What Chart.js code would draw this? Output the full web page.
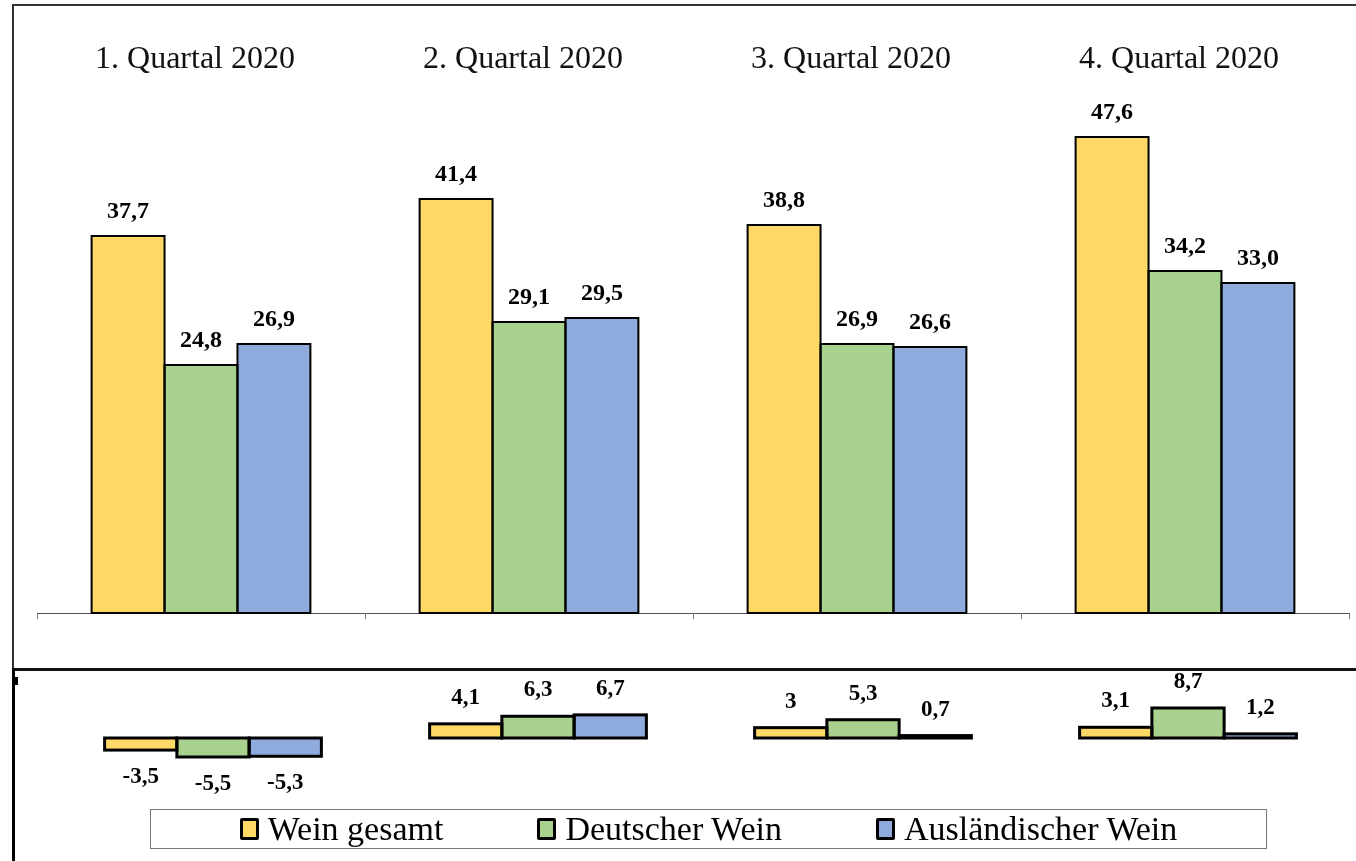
<!DOCTYPE html>
<html>
<head>
<meta charset="utf-8">
<script src="https://cdn.jsdelivr.net/npm/chart.js@4/dist/chart.umd.min.js"></script>
<style>
  html, body { margin: 0; padding: 0; background: #fff; }
  body { width: 1356px; height: 861px; position: relative; overflow: hidden; font-family: "Liberation Serif", "DejaVu Serif", serif; }
  #levels { position: absolute; left: 0; top: 0; }
  #changes { position: absolute; left: 0; top: 672px; }
  .rule { position: absolute; }
  .frame-top { left: 12px; top: 4px; width: 1344px; height: 2px; background: #333; }
  .frame-left { left: 12px; top: 4px; width: 2px; height: 666px; background: #333; }
  .frame-left-low { left: 12px; top: 668px; width: 3px; height: 193px; background: #000; }
  .divider { left: 12px; top: 668px; width: 1344px; height: 3px; background: #111; }
  .corner { left: 14px; top: 677px; width: 4px; height: 8px; background: #000; }
  #legend {
    position: absolute; left: 150px; top: 809px; width: 1115px; height: 38px;
    border: 1.5px solid #777; display: flex; align-items: center; justify-content: center; gap: 94px;
  }
  #legend .item { display: flex; align-items: center; }
  #legend .swatch { width: 13px; height: 16px; border: 3px solid #000; border-radius: 2px; margin-right: 9px; }
  #legend .text { font-size: 34px; color: #000; line-height: 38px; }
</style>
</head>
<body>
<canvas id="levels" width="1356" height="670"></canvas>
<canvas id="changes" width="1356" height="189"></canvas>
<div class="rule frame-top"></div>
<div class="rule frame-left"></div>
<div class="rule divider"></div>
<div class="rule frame-left-low"></div>
<div class="rule corner"></div>
<div id="legend"></div>
<script>
// Quarters and series
const quarters = ['1. Quartal 2020', '2. Quartal 2020', '3. Quartal 2020', '4. Quartal 2020'];
const seriesNames = ['Wein gesamt', 'Deutscher Wein', 'Ausländischer Wein'];
const seriesColors = ['#FFD966', '#A9D18E', '#8FAADC'];

// Upper panel: levels
const weinGesamt = [37.7, 41.4, 38.8, 47.6];
const deutscherWein = [24.8, 29.1, 26.9, 34.2];
const auslaendischerWein = [26.9, 29.5, 26.6, 33.0];

// Lower panel: changes
const aenderungGesamt = [-3.5, 4.1, 3, 3.1];
const aenderungDeutsch = [-5.5, 6.3, 5.3, 8.7];
const aenderungAusland = [-5.3, 6.7, 0.7, 1.2];

const serifFont = '"Liberation Serif", "DejaVu Serif", serif';

// Black outlines stroked on the bar edges (centred, so thin bars become solid lines)
function barOutlines(id, lineWidth) {
  return {
    id: id,
    afterDatasetsDraw(chart) {
      const ctx = chart.ctx;
      ctx.save();
      ctx.strokeStyle = '#000';
      ctx.lineWidth = lineWidth;
      ctx.lineJoin = 'miter';
      chart.data.datasets.forEach((ds, i) => {
        chart.getDatasetMeta(i).data.forEach((bar) => {
          const p = bar.getProps(['x', 'y', 'base', 'width'], true);
          const left = p.x - p.width / 2;
          const top = Math.min(p.y, p.base);
          const h = Math.abs(p.base - p.y);
          ctx.strokeRect(left, top, p.width, h);
        });
      });
      ctx.restore();
    }
  };
}

// Value labels above positive bars and below negative bars
function valueLabels(id, fontSize, offsetUp, offsetDown, format) {
  return {
    id: id,
    afterDatasetsDraw(chart) {
      const ctx = chart.ctx;
      ctx.save();
      ctx.font = 'bold ' + fontSize + 'px ' + serifFont;
      ctx.fillStyle = '#000';
      ctx.textAlign = 'center';
      ctx.textBaseline = 'middle';
      chart.data.datasets.forEach((ds, i) => {
        chart.getDatasetMeta(i).data.forEach((bar, j) => {
          const v = ds.data[j];
          const y = v >= 0 ? bar.y - offsetUp : bar.y + offsetDown;
          ctx.fillText(format(v), bar.x, y);
        });
      });
      ctx.restore();
    }
  };
}

function datasets(values) {
  return values.map((data, i) => ({
    label: seriesNames[i],
    data: data,
    backgroundColor: seriesColors[i],
    borderWidth: 0,
    barPercentage: 1,
    categoryPercentage: 0.667
  }));
}

new Chart(document.getElementById('levels'), {
  type: 'bar',
  data: {
    labels: quarters,
    datasets: datasets([weinGesamt, deutscherWein, auslaendischerWein])
  },
  options: {
    responsive: false,
    animation: false,
    layout: { padding: { left: 37, right: 7, top: 0, bottom: 0 } },
    plugins: { legend: { display: false }, tooltip: { enabled: false } },
    scales: {
      x: {
        position: 'bottom',
        offset: true,
        grid: { offset: true, drawOnChartArea: false, drawTicks: true, tickLength: 6, color: '#777', lineWidth: 1 },
        border: { display: true, color: '#555', width: 1 },
        ticks: { display: false },
        afterFit(scale) { scale.height = 57; }
      },
      titles: {
        type: 'category',
        position: 'top',
        offset: true,
        grid: { display: false, drawTicks: false },
        border: { display: false },
        ticks: { color: '#111', padding: 34, labelOffset: -6, font: { family: serifFont, size: 32 } },
        afterFit(scale) { scale.height = 113; }
      },
      y: { display: false, min: 0, max: 50 }
    }
  },
  plugins: [
    barOutlines('levelOutlines', 2),
    valueLabels('levelLabels', 24, 24, 24, v => v.toFixed(1).replace('.', ','))
  ]
});

new Chart(document.getElementById('changes'), {
  type: 'bar',
  data: {
    labels: quarters,
    datasets: datasets([aenderungGesamt, aenderungDeutsch, aenderungAusland])
  },
  options: {
    responsive: false,
    animation: false,
    layout: { padding: { left: 50.5, right: 5.5, top: 24.6, bottom: 95.4 } },
    plugins: { legend: { display: false }, tooltip: { enabled: false } },
    scales: {
      x: { display: false, offset: true },
      y: { display: false, min: -8, max: 12 }
    }
  },
  plugins: [
    barOutlines('changeOutlines', 3),
    valueLabels('changeLabels', 23, 26, 27, v => String(v).replace('.', ','))
  ]
});

// Legend built from the series names and colours
const legend = document.getElementById('legend');
seriesNames.forEach((name, i) => {
  const item = document.createElement('div');
  item.className = 'item';
  const sw = document.createElement('div');
  sw.className = 'swatch';
  sw.style.background = seriesColors[i];
  const tx = document.createElement('span');
  tx.className = 'text';
  tx.textContent = name;
  item.appendChild(sw);
  item.appendChild(tx);
  legend.appendChild(item);
});
</script>
</body>
</html>
